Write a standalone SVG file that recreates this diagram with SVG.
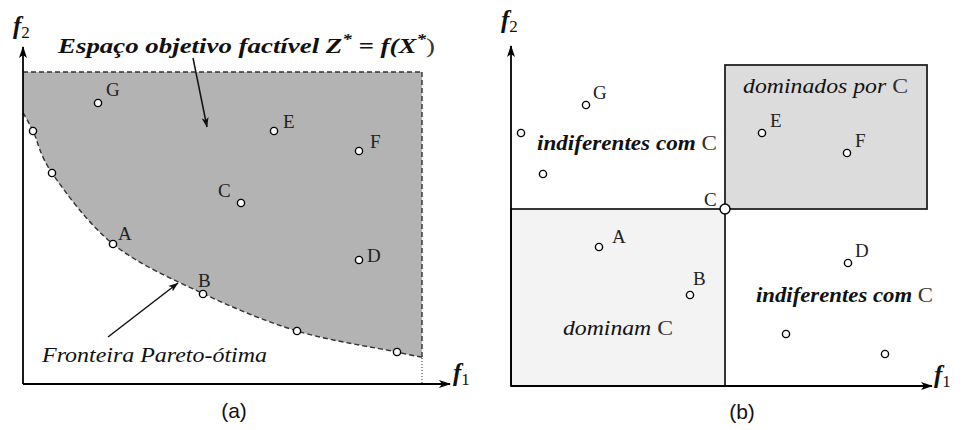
<svg xmlns="http://www.w3.org/2000/svg" width="962" height="430" viewBox="0 0 962 430">
<style>
.ax{stroke:#000;stroke-width:1.8;fill:none}
.pt{fill:#fff;stroke:#000;stroke-width:1.4}
.lbl{font-family:"Liberation Serif",serif;font-size:19px;fill:#222}
.it{font-family:"Liberation Serif",serif;font-style:italic;font-size:21px;fill:#111}
.bi{font-family:"Liberation Serif",serif;font-style:italic;font-weight:bold;font-size:21px;fill:#111}
.up{font-style:normal;font-weight:normal;fill:#333}
.cap{font-family:"Liberation Sans",Arial,sans-serif;font-size:21px;fill:#111;text-anchor:middle}
.fx{font-family:"Liberation Serif",serif;font-style:italic;font-weight:bold;font-size:25px;fill:#111}
.sub{font-style:normal;font-weight:normal;font-size:17px}
.dash{stroke:#333;stroke-width:1.4;stroke-dasharray:5 3;fill:none}
.arr{stroke:#111;stroke-width:1.5;fill:none}
</style>
<defs>
<marker id="ah" viewBox="0 0 12 8" refX="11" refY="4" markerWidth="12" markerHeight="8" markerUnits="userSpaceOnUse" orient="auto">
<path d="M0,0 L12,4 L0,8 L3,4 z" fill="#000"/>
</marker>
<marker id="ah2" viewBox="0 0 10 7" refX="9.5" refY="3.5" markerWidth="10" markerHeight="7" markerUnits="userSpaceOnUse" orient="auto">
<path d="M0,0 L10,3.5 L0,7 L2.5,3.5 z" fill="#111"/>
</marker>
</defs>

<g id="panel-a">
<g id="region-a">
<path d="M23,72 H422 V357 C415,356 405,354 397,352 C376,347.7 329,340.7 297,331 C265,321.3 235,308.5 204,294 C173,279.5 138,264.2 113,244 C88,223.8 65,191.8 52,173 C39,154 38,141 33,131 C28,121 25,116 23,113 Z" fill="#b3b3b3"/>
<path class="dash" d="M23,72 H422" stroke="#888"/>
<path class="dash" d="M422,72 V357" stroke-width="1.8" stroke="#222"/>
<path d="M422,358 V383" stroke="#555" stroke-width="1.2" stroke-dasharray="1 2" fill="none"/>
<path class="dash" d="M422,357 C415,356 405,354 397,352 C376,347.7 329,340.7 297,331 C265,321.3 235,308.5 204,294 C173,279.5 138,264.2 113,244 C88,223.8 65,191.8 52,173 C39,154 38,141 33,131 C28,121 25,116 23,113"/>
</g>
<g id="axes-a">
<path class="ax" d="M23,384 V47" marker-end="url(#ah)"/>
<path class="ax" d="M23,384 H450" marker-end="url(#ah)"/>
<text class="fx" x="13" y="34">f<tspan class="sub" dy="4">2</tspan></text>
<text class="fx" x="453" y="381">f<tspan class="sub" dy="4">1</tspan></text>
</g>
<g id="points-a">
<circle class="pt" cx="98" cy="103" r="3.6"/><text class="lbl" x="106" y="96">G</text>
<circle class="pt" cx="274" cy="131" r="3.6"/><text class="lbl" x="283" y="128">E</text>
<circle class="pt" cx="359" cy="151" r="3.6"/><text class="lbl" x="370" y="148">F</text>
<circle class="pt" cx="241" cy="203" r="3.6"/><text class="lbl" x="218" y="197">C</text>
<circle class="pt" cx="113" cy="244" r="3.6"/><text class="lbl" x="118" y="240">A</text>
<circle class="pt" cx="359" cy="260" r="3.6"/><text class="lbl" x="367" y="262">D</text>
<circle class="pt" cx="203" cy="294" r="3.6"/><text class="lbl" x="198" y="287">B</text>
<circle class="pt" cx="33" cy="131" r="3.6"/>
<circle class="pt" cx="52" cy="173" r="3.6"/>
<circle class="pt" cx="297" cy="331" r="3.6"/>
<circle class="pt" cx="397" cy="352" r="3.6"/>
</g>
<g id="labels-a">
<text class="bi" x="58" y="53" font-size="24" textLength="377" lengthAdjust="spacingAndGlyphs">Espaço objetivo factível Z<tspan font-size="15" dy="-9">*</tspan><tspan dy="9"> = f(X</tspan><tspan font-size="15" dy="-9">*</tspan><tspan dy="9" class="up">)</tspan></text>
<text class="it" x="42" y="362" textLength="225" lengthAdjust="spacingAndGlyphs">Fronteira Pareto-ótima</text>
<text class="cap" x="234" y="418">(a)</text>
</g>
<g id="connectors-a">
<path class="arr" d="M193,58 L207,127" marker-end="url(#ah2)"/>
<path class="arr" d="M108,337 L178,283" marker-end="url(#ah2)"/>
</g>
</g>

<g id="panel-b">
<g id="regions-b">
<rect id="dominados" x="725" y="65" width="202" height="144" fill="#dcdcdc" stroke="#222" stroke-width="1.8"/>
<rect id="dominam" x="511" y="209" width="214" height="177" fill="#f3f3f3" stroke="#222" stroke-width="1.8"/>
</g>
<g id="axes-b">
<path class="ax" d="M511,386 V46" marker-end="url(#ah)"/>
<path class="ax" d="M511,386 H932" marker-end="url(#ah)"/>
<text class="fx" x="501" y="28">f<tspan class="sub" dy="4">2</tspan></text>
<text class="fx" x="934" y="383">f<tspan class="sub" dy="4">1</tspan></text>
</g>
<g id="points-b">
<circle class="pt" cx="586" cy="105" r="3.6"/><text class="lbl" x="593" y="99">G</text>
<circle class="pt" cx="521" cy="133" r="3.6"/>
<circle class="pt" cx="543" cy="174" r="3.6"/>
<circle class="pt" cx="762" cy="133" r="3.6"/><text class="lbl" x="770" y="127">E</text>
<circle class="pt" cx="847" cy="153" r="3.6"/><text class="lbl" x="855" y="147">F</text>
<circle class="pt" cx="725" cy="209" r="5" stroke-width="1.6"/><text class="lbl" x="704" y="206">C</text>
<circle class="pt" cx="599" cy="247" r="3.6"/><text class="lbl" x="612" y="243">A</text>
<circle class="pt" cx="690" cy="295" r="3.6"/><text class="lbl" x="693" y="285">B</text>
<circle class="pt" cx="848" cy="263" r="3.6"/><text class="lbl" x="855" y="257">D</text>
<circle class="pt" cx="786" cy="334" r="3.6"/>
<circle class="pt" cx="885" cy="354" r="3.6"/>
</g>
<g id="labels-b">
<text class="it" x="743" y="93" textLength="165" lengthAdjust="spacingAndGlyphs">dominados por <tspan class="up">C</tspan></text>
<text class="bi" x="537" y="150" textLength="180" lengthAdjust="spacingAndGlyphs">indiferentes com <tspan class="up">C</tspan></text>
<text class="bi" x="756" y="302" textLength="177" lengthAdjust="spacingAndGlyphs">indiferentes com <tspan class="up">C</tspan></text>
<text class="it" x="563" y="335" textLength="110" lengthAdjust="spacingAndGlyphs">dominam <tspan class="up">C</tspan></text>
<text class="cap" x="742" y="419">(b)</text>
</g>
</g>
</svg>
